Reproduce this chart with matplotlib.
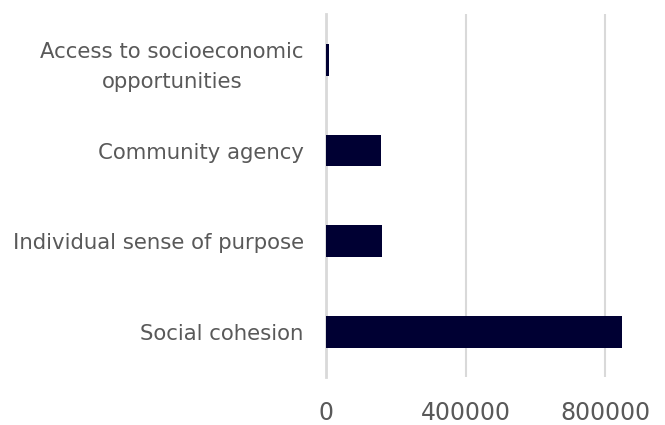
import matplotlib.pyplot as plt

# categories bottom to top
categories = ["Social cohesion", "Individual sense of purpose",
              "Community agency", "Access to socioeconomic\nopportunities"]
values = [849000, 162000, 156500, 8000]
xticks = [0, 400000, 800000]

plt.rcParams['font.family'] = ['DejaVu Sans']

fig = plt.figure(figsize=(6.65, 4.25), dpi=100)
ax = fig.add_axes([0.490, 0.112, 0.487, 0.854])

ax.barh(range(len(categories)), values, height=0.35, color='#000033', zorder=3)

ax.set_ylim(-0.5, len(categories) - 0.5)
ax.set_xlim(0, 927000)
ax.set_xticks(xticks)
ax.set_xticklabels([str(t) for t in xticks])
ax.set_yticks(range(len(categories)))
ax.set_yticklabels(categories, multialignment='center', linespacing=1.65)

ax.grid(axis='x', color='#d9d9d9', linewidth=1.5, zorder=0)
for s in ['top', 'right', 'bottom']:
    ax.spines[s].set_visible(False)
ax.spines['left'].set_color('#d9d9d9')
ax.spines['left'].set_linewidth(2)
ax.spines['left'].set_zorder(2)

ax.tick_params(axis='x', length=0, pad=17, labelsize=17, labelcolor='#595959')
ax.tick_params(axis='y', length=0, pad=16, labelsize=15.3, labelcolor='#595959')

fig.savefig('out.png', dpi=100)
